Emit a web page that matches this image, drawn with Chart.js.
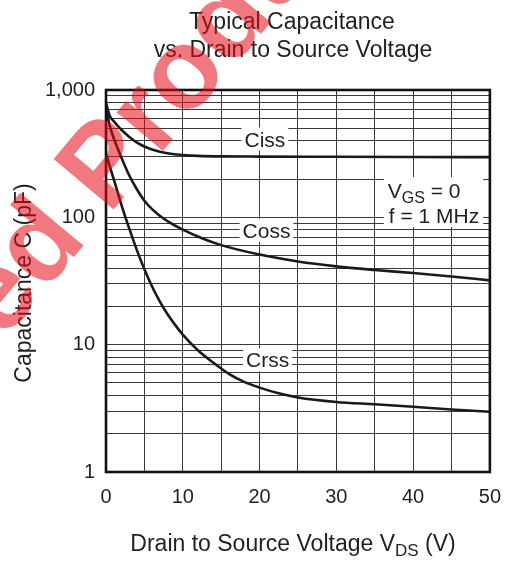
<!DOCTYPE html>
<html>
<head>
<meta charset="utf-8">
<script src="https://cdn.jsdelivr.net/npm/chart.js@4.4.1/dist/chart.umd.min.js"></script>
<style>
  html, body { margin: 0; padding: 0; background: #fff; }
  #wrap { width: 514px; height: 562px; }
</style>
</head>
<body>
<div id="wrap"><canvas id="chart" width="514" height="562"></canvas></div>
<script>
// Drain to source voltage (V) and capacitance (pF)
const cissVds = [0, 0.5, 1, 1.5, 2, 3, 4, 5, 6, 7, 8, 10, 12, 15, 20, 30, 40, 50];
const cissPf = [790, 625, 570, 525, 487, 430, 388, 360, 341, 328, 319, 309, 304, 301, 300, 299, 298, 297];

const cossVds = [0, 0.5, 1, 1.5, 2, 3, 4, 5, 6, 7, 8, 10, 12.5, 15, 20, 25, 30, 35, 40, 45, 50];
const cossPf = [720, 520, 420, 350, 295, 215, 167, 135, 116, 103, 93.5, 80, 68.5, 60.5, 51, 45, 41.2, 38.6, 36.5, 34.3, 32];

const crssVds = [0, 0.5, 1, 1.5, 2, 3, 4, 5, 6, 7, 8, 9, 10, 12, 14, 16, 18, 20, 22.5, 25, 30, 35, 40, 45, 50];
const crssPf = [316, 251, 200, 159, 126, 82.6, 55.8, 39.1, 28.6, 21.9, 17.4, 14.3, 12.0, 9.0, 7.2, 5.9, 5.1, 4.6, 4.15, 3.85, 3.55, 3.4, 3.25, 3.1, 2.97];

const xTickLabels = ['0', '10', '20', '30', '40', '50'];
const yTickValues = [1, 10, 100, 1000];
const yTickLabels = ['1', '10', '100', '1,000'];

const FONT = "'Liberation Sans', Arial, Helvetica, sans-serif";
const INK = '#231f20';

// where the curve names sit, in data units
const curveLabels = [
    { text: 'Ciss', vds: 20.7, pf: 412 },
    { text: 'Coss', vds: 20.9, pf: 79 },
    { text: 'Crss', vds: 21.05, pf: 7.6 }
];

function toPoints(xs, ys) {
    return xs.map(function (x, i) { return { x: x, y: ys[i] }; });
}

// log grid: 1..9 in every decade
const yGridValues = [];
for (let d = 1; d < 1000; d *= 10) {
    for (let m = 1; m < 10; m++) {
        yGridValues.push(m * d);
    }
}
yGridValues.push(1000);

// draw a run of text pieces, some of them subscript
function drawRuns(ctx, runs, x, y, size, subSize, align) {
    const widths = runs.map(function (r) {
        ctx.font = (r.sub ? subSize : size) + 'px ' + FONT;
        return ctx.measureText(r.t).width;
    });
    const total = widths.reduce(function (a, b) { return a + b; }, 0);
    let cx = align === 'center' ? x - total / 2 : x;
    ctx.textAlign = 'left';
    ctx.textBaseline = 'alphabetic';
    runs.forEach(function (r, i) {
        ctx.font = (r.sub ? subSize : size) + 'px ' + FONT;
        ctx.fillText(r.t, cx, r.sub ? y + 5 : y);
        cx += widths[i];
    });
    return total;
}

const decorPlugin = {
    id: 'decor',
    beforeDatasetsDraw: function (chart) {
        const ctx = chart.ctx;
        const xs = chart.scales.x;
        const ys = chart.scales.y;
        ctx.save();

        // curve names, each on a white patch that breaks the grid
        ctx.font = '21px ' + FONT;
        const capH = 15;
        curveLabels.forEach(function (lab) {
            const cx = xs.getPixelForValue(lab.vds);
            const cy = ys.getPixelForValue(lab.pf);
            const w = ctx.measureText(lab.text).width;
            ctx.fillStyle = '#fff';
            ctx.fillRect(cx - w / 2 - 3, cy - capH / 2 - 4, w + 6, capH + 8);
            ctx.fillStyle = INK;
            ctx.textAlign = 'center';
            ctx.textBaseline = 'alphabetic';
            ctx.fillText(lab.text, cx, cy + capH / 2);
        });

        // test conditions note
        const nx = xs.getPixelForValue(36.7);
        const ny = ys.getPixelForValue(141.8);
        ctx.font = '21px ' + FONT;
        const w2 = ctx.measureText('f = 1 MHz').width;
        ctx.fillStyle = '#fff';
        ctx.fillRect(nx - 4, ny - 21, w2 + 9, 50);
        ctx.fillStyle = INK;
        drawRuns(ctx, [{ t: 'V' }, { t: 'GS', sub: true }, { t: ' = 0' }], nx, ny, 21, 16, 'left');
        ctx.font = '21px ' + FONT;
        ctx.textAlign = 'left';
        ctx.fillText('f = 1 MHz', nx + 1, ny + 24.7);
        ctx.restore();
    },
    afterDatasetsDraw: function (chart) {
        const ctx = chart.ctx;
        const a = chart.chartArea;
        ctx.save();
        ctx.strokeStyle = '#111';
        ctx.lineWidth = 2.6;
        ctx.strokeRect(a.left, a.top, a.right - a.left, a.bottom - a.top);

        // titles
        ctx.fillStyle = INK;
        ctx.font = '23px ' + FONT;
        ctx.textAlign = 'center';
        ctx.textBaseline = 'alphabetic';
        ctx.fillText('Typical Capacitance', 292, 28.5);
        ctx.fillText('vs. Drain to Source Voltage', 293, 57);

        drawRuns(ctx, [{ t: 'Drain to Source Voltage V' }, { t: 'DS', sub: true }, { t: ' (V)' }],
            293, 551, 23, 17, 'center');

        ctx.save();
        ctx.translate(31, (a.top + a.bottom) / 2 + 2);
        ctx.rotate(-Math.PI / 2);
        ctx.font = '23px ' + FONT;
        ctx.textAlign = 'center';
        ctx.fillText('Capacitance C (pF)', 0, 0);
        ctx.restore();

        // red watermark over everything
        const mark = 'Discontinued Product';
        ctx.font = 'bold 114px ' + FONT;
        const lead = ctx.measureText('Discontinue').width + ctx.measureText('d').width / 2;
        ctx.translate(42, 246);
        ctx.rotate(-50 * Math.PI / 180);
        ctx.fillStyle = 'rgba(228, 10, 20, 0.55)';
        ctx.textAlign = 'left';
        ctx.textBaseline = 'middle';
        ctx.fillText(mark, -lead, 0);
        ctx.restore();
    }
};

new Chart(document.getElementById('chart'), {
    type: 'line',
    data: {
        datasets: [
            { label: 'Ciss', data: toPoints(cissVds, cissPf) },
            { label: 'Coss', data: toPoints(cossVds, cossPf) },
            { label: 'Crss', data: toPoints(crssVds, crssPf) }
        ]
    },
    options: {
        responsive: false,
        devicePixelRatio: 1,
        animation: false,
        layout: { padding: { top: 90, right: 21, bottom: 0, left: 0 } },
        elements: {
            line: { borderColor: '#1a1a1a', borderWidth: 2.6, cubicInterpolationMode: 'monotone', fill: false },
            point: { radius: 0 }
        },
        scales: {
            x: {
                type: 'linear',
                min: 0,
                max: 50,
                afterFit: function (scale) { scale.height = 90; },
                grid: { color: '#3a3a3a', lineWidth: 1, drawTicks: false },
                border: { display: false },
                ticks: {
                    stepSize: 5,
                    autoSkip: false,
                    maxRotation: 0,
                    padding: 13,
                    color: INK,
                    font: { family: FONT, size: 20 },
                    callback: function (v) {
                        const i = xTickLabels.indexOf(String(v));
                        return i >= 0 ? xTickLabels[i] : '';
                    }
                }
            },
            y: {
                type: 'logarithmic',
                min: 1,
                max: 1000,
                afterFit: function (scale) { scale.width = 106; },
                afterBuildTicks: function (scale) {
                    scale.ticks = yGridValues.map(function (v) { return { value: v }; });
                },
                grid: { color: '#3a3a3a', lineWidth: 1, drawTicks: false },
                border: { display: false },
                ticks: {
                    autoSkip: false,
                    padding: 11,
                    color: INK,
                    font: { family: FONT, size: 20 },
                    callback: function (v) {
                        const i = yTickValues.indexOf(v);
                        return i >= 0 ? yTickLabels[i] : '';
                    }
                }
            }
        },
        plugins: {
            legend: { display: false },
            tooltip: { enabled: false },
            title: { display: false }
        }
    },
    plugins: [decorPlugin]
});
</script>
</body>
</html>
